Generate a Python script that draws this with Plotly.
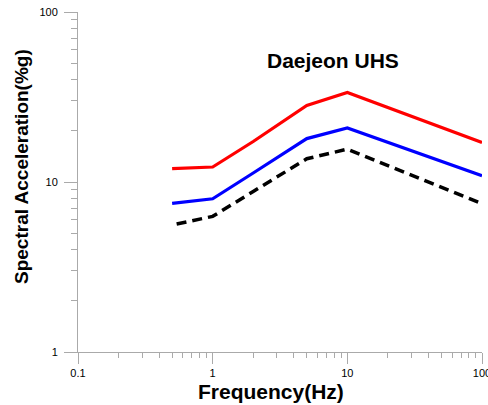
import plotly.graph_objects as go

freq_red = [0.5, 1, 2, 5, 10, 100]
sa_red = [12.0, 12.25, 17.3, 28.2, 33.6, 17.1]

freq_blue = [0.5, 1, 2, 5, 10, 100]
sa_blue = [7.48, 7.97, 11.3, 18.0, 20.8, 10.9]

freq_black = [0.54, 1, 2, 5, 10, 100]
sa_black = [5.66, 6.28, 8.8, 13.7, 15.6, 7.45]

x_ticks = [0.1, 1, 10, 100]
x_tick_text = ["0.1", "1", "10", "100"]
y_ticks = [1, 10, 100]
y_tick_text = ["1", "10", "100"]

minor_vals = [m * 10 ** e for e in range(-1, 2) for m in range(2, 10)]

fig = go.Figure()
fig.add_trace(go.Scatter(x=freq_red, y=sa_red, mode="lines",
                         line=dict(color="#ff0000", width=3.2)))
fig.add_trace(go.Scatter(x=freq_blue, y=sa_blue, mode="lines",
                         line=dict(color="#0000ff", width=3.2)))
fig.add_trace(go.Scatter(x=freq_black, y=sa_black, mode="lines",
                         line=dict(color="#000000", width=3.5, dash="10px,6px")))

axis_col = "#aaaaaa"
fig.update_layout(
    width=488, height=405,
    margin=dict(l=78, r=6, t=12, b=53),
    paper_bgcolor="white", plot_bgcolor="white",
    showlegend=False,
    font=dict(family="Liberation Sans, Arial, sans-serif", color="#000000", size=10),
    xaxis=dict(type="log", range=[-1, 2], showgrid=False, zeroline=False,
               automargin=False,
               showline=True, linecolor=axis_col, linewidth=1,
               ticks="outside", ticklen=11, tickcolor=axis_col, tickwidth=1,
               tickmode="array", tickvals=x_ticks, ticktext=x_tick_text,
               tickfont=dict(size=11), ticklabeloverflow="allow",
               minor=dict(tickmode="array", tickvals=minor_vals, ticks="outside",
                          ticklen=5, tickcolor=axis_col, tickwidth=1)),
    yaxis=dict(type="log", range=[0, 2], showgrid=False, zeroline=False,
               automargin=False,
               showline=True, linecolor=axis_col, linewidth=1,
               ticks="outside", ticklen=13, tickcolor=axis_col, tickwidth=1,
               tickmode="array", tickvals=y_ticks, ticktext=y_tick_text,
               tickfont=dict(size=11), ticklabelstandoff=4,
               minor=dict(tickmode="array", tickvals=minor_vals + [m * 10 for m in range(2, 10)],
                          ticks="outside", ticklen=6, tickcolor=axis_col, tickwidth=1)),
    annotations=[
        dict(text="<b>Daejeon UHS</b>", showarrow=False, font=dict(size=21)),
        dict(text="<b>Frequency(Hz)</b>", showarrow=False, font=dict(size=21)),
        dict(text="<b>Spectral Acceleration(%g)</b>", showarrow=False,
             font=dict(size=19), textangle=-90),
    ],
)

W, H = 488, 405
l, r, t, b = 78, 6, 12, 53
pw, ph = W - l - r, H - t - b

def px_to_paper(px, py):
    return (px - l) / pw, (H - b - py) / ph

ann = list(fig.layout.annotations)
for a, (px, py) in zip(ann, [(333, 60), (271, 391), (21, 167)]):
    xp, yp = px_to_paper(px, py)
    a.update(x=xp, y=yp, xref="paper", yref="paper", xanchor="center", yanchor="middle")
fig.layout.annotations = ann

fig.write_html("out.html")
